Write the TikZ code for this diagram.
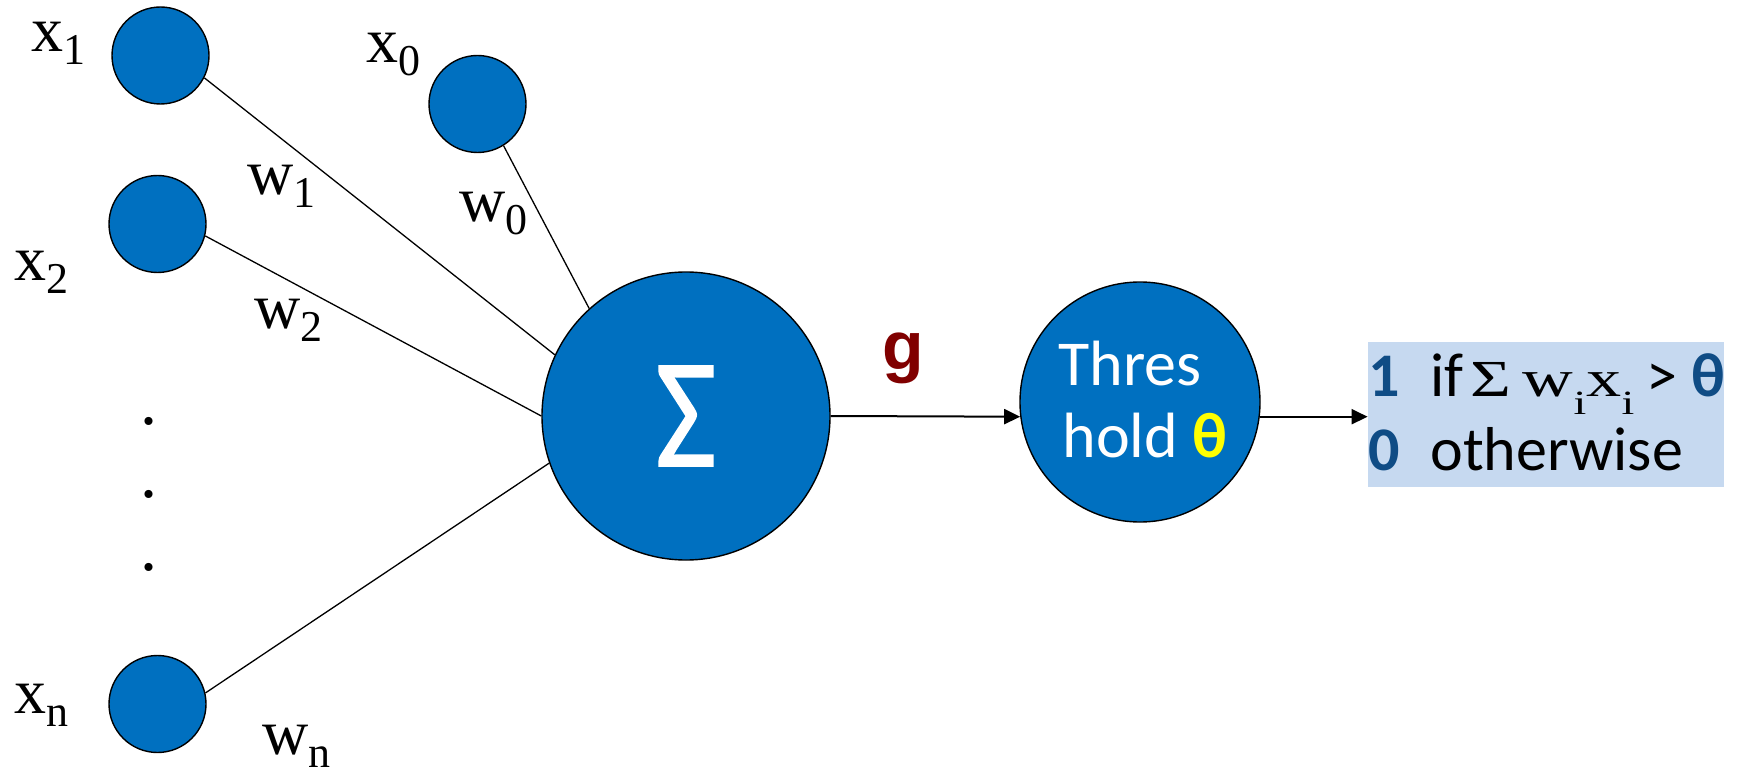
\documentclass[tikz,border=0pt]{standalone}
\usepackage{fontspec}
\usepackage{graphicx}
\setmainfont{Liberation Serif}
\newfontfamily\calfont{Carlito}
\newfontfamily\sigmafont[FakeBold=1.2]{Carlito}
\newfontfamily\arialfont{Liberation Sans}
\usetikzlibrary{arrows.meta}

\definecolor{nodeblue}{HTML}{0070C0}
\definecolor{boxblue}{HTML}{C6D9F0}
\definecolor{digblue}{HTML}{0F4C85}
\definecolor{gred}{HTML}{800000}
\definecolor{thyellow}{HTML}{FFFF00}

% lowered subscript for the input and weight labels
\newcommand\lsub[1]{\raisebox{-6.5pt}{\fontsize{22}{22}\selectfont #1}}
% lowered subscript for the formula in the output box
\newcommand\fsub[1]{\raisebox{-9pt}{\fontsize{17}{17}\selectfont #1}}

\tikzset{
  unit/.style={circle, draw=black, line width=0.7pt, fill=nodeblue, inner sep=0pt},
  inp/.style={unit, minimum size=48.5pt},
  lbl/.style={anchor=base west, inner sep=0pt, font=\fontsize{32}{32}\selectfont},
  dotlbl/.style={anchor=base, inner sep=0pt, font=\fontsize{34}{34}\selectfont},
  conn/.style={line width=0.65pt},
  arr/.style={line width=1pt, -{Triangle[length=8pt,width=7.5pt]}},
  thtext/.style={anchor=base west, inner sep=0pt, text=white, font=\calfont\fontsize{32}{32}\selectfont},
  outtext/.style={anchor=base west, inner sep=0pt, font=\calfont\fontsize{31}{31}\selectfont},
  outdig/.style={outtext, text=digblue, font=\calfont\bfseries\fontsize{31}{31}\selectfont},
}

\begin{document}
\begin{tikzpicture}[x=0.5pt, y=-0.5pt]
\useasboundingbox (0,0) rectangle (1744,775);

% input units
\node[inp] (x1) at (160.5,55.5) {};
\node[inp] (x2) at (157.5,224) {};
\node[inp] (x0) at (477.5,104) {};
\node[inp] (xn) at (157.5,704) {};

% summation unit and threshold unit
\node[unit, minimum size=144pt] (sig) at (686,416)
  {\textcolor{white}{\resizebox{30.5pt}{50pt}{\sigmafont Σ}}};
\node[unit, minimum size=120pt] (thr) at (1140,402) {};

% output box
\node[fill=boxblue, inner sep=0pt, minimum width=178pt, minimum height=72.5pt]
  (out) at (1546,414.5) {};

% weighted connections
\draw[conn] (x1.-27) -- (sig.155);
\draw[conn] (x2.-14) -- (sig.180);
\draw[conn] (x0.-58) -- (sig.132);
\draw[conn] (xn.13) -- (sig.199);

% signal flow
\draw[arr] (sig.east) -- (thr.187);
\draw[arr] (thr.-7) -- (thr.-7 -| out.west);

% input labels
\node[lbl] (lx1) at (31,52) {x\lsub{1}};
\node[lbl] (lx0) at (366,63) {x\lsub{0}};
\node[lbl] (lx2) at (14,280) {x\lsub{2}};
\node[lbl] (lxn) at (14,713) {x\lsub{n}};

% weight labels
\node[lbl] (lw1) at (247,195) {w\lsub{1}};
\node[lbl] (lw0) at (459,221) {w\lsub{0}};
\node[lbl] (lw2) at (254,328) {w\lsub{2}};
\node[lbl] (lwn) at (262,754) {w\lsub{n}};

% vertical ellipsis
\node[dotlbl] (d1) at (149,424) {.};
\node[dotlbl] (d2) at (149,497) {.};
\node[dotlbl] (d3) at (149,570) {.};

% net input label
\node[anchor=base, inner sep=0pt, text=gred, font=\arialfont\bfseries\fontsize{34}{34}\selectfont]
  (g) at (903,369) {g};

% threshold text
\node[thtext] (t1) at (1058,385) {Thres};
\node[thtext] (t2) at (1062,457) {hold {\bfseries\textcolor{thyellow}{θ}}};

% output rule
\node[outdig] (one) at (1368,396) {1};
\node[outtext] (if) at (1430,396) {if};
\node[anchor=base west, inner sep=0pt, font=\fontsize{26}{26}\selectfont] (sum) at (1470,396)
  {\scalebox{1.35}[1]{Σ\,w\fsub{i}x\fsub{i}}};
\node[outtext] (gt) at (1646,396) {>};
\node[outdig] (th) at (1691,396) {θ};
\node[outdig] (zero) at (1368,470) {0};
\node[outtext] (oth) at (1430,470) {otherwise};

\end{tikzpicture}
\end{document}
